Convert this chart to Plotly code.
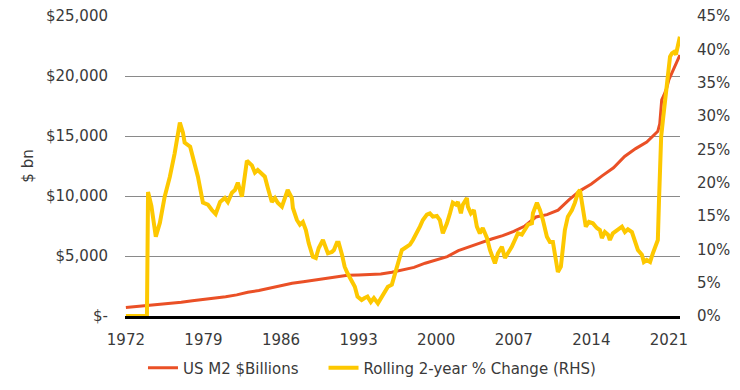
import plotly.graph_objects as go

# ---- Data ----
m2_year = [1972, 1973, 1974, 1975, 1976, 1977, 1978, 1979, 1980, 1981,
           1982, 1983, 1984, 1985, 1986, 1987, 1988, 1989, 1990, 1991,
           1992, 1993, 1994, 1995, 1996, 1997, 1998, 1999, 2000, 2001,
           2002, 2003, 2004, 2005, 2006, 2007, 2008, 2009, 2010, 2011,
           2012, 2013, 2014, 2015, 2016, 2017, 2018, 2019,
           2020.0, 2020.17, 2020.35, 2020.55, 2020.8, 2021.0, 2021.3, 2021.55, 2021.99]
m2_value = [700, 790, 860, 920, 1020, 1150, 1270, 1370, 1480, 1600,
            1760, 1980, 2130, 2320, 2500, 2730, 2850, 2990, 3170, 3300,
            3390, 3420, 3480, 3500, 3650, 3830, 4050, 4400, 4650, 4950,
            5450, 5800, 6100, 6420, 6700, 7050, 7500, 8250, 8450, 8820,
            9700, 10450, 11000, 11700, 12350, 13300, 13950, 14500,
            15400, 16000, 18000, 18400, 19000, 19700, 20300, 20900, 21750]

chg_year = [1972.0, 1973.9, 1974.0, 1974.3, 1974.7, 1975.07, 1975.5, 1975.97, 1976.4, 1976.87,
            1977.15, 1977.3, 1977.8, 1978.2, 1978.5, 1978.95, 1979.4, 1979.76, 1980.1, 1980.5,
            1980.93, 1981.2, 1981.57, 1981.84, 1982.1, 1982.47, 1982.74, 1982.92, 1983.37, 1983.64,
            1983.9, 1984.27, 1984.54, 1984.81, 1985.17, 1985.45, 1985.7, 1986.08, 1986.35, 1986.6,
            1986.98, 1987.07, 1987.43, 1987.7, 1987.97, 1988.24, 1988.5, 1988.87, 1989.14, 1989.4,
            1989.78, 1990.05, 1990.23, 1990.59, 1990.77, 1991.04, 1991.2, 1991.5, 1991.74, 1992.0,
            1992.37, 1992.66, 1992.9, 1993.27, 1993.54, 1993.8, 1994.1, 1994.38, 1994.74, 1995.1,
            1995.37, 1995.64, 1996.0, 1996.27, 1996.54, 1996.9, 1997.18, 1997.63, 1997.9, 1998.26,
            1998.53, 1998.8, 1999.16, 1999.43, 1999.7, 2000.06, 2000.33, 2000.6, 2000.97, 2001.24,
            2001.5, 2001.78, 2001.96, 2002.23, 2002.4, 2002.77, 2002.86, 2003.13, 2003.4, 2003.67,
            2003.94, 2004.2, 2004.58, 2004.85, 2005.3, 2005.57, 2005.93, 2006.2, 2006.47, 2006.83,
            2007.1, 2007.37, 2007.73, 2008.0, 2008.28, 2008.64, 2008.73, 2009.09, 2009.36, 2009.63,
            2009.99, 2010.26, 2010.53, 2010.8, 2010.98, 2011.25, 2011.43, 2011.61, 2011.88, 2012.25,
            2012.52, 2012.79, 2012.97, 2013.24, 2013.5, 2013.78, 2014.14, 2014.5, 2014.77, 2014.95,
            2015.22, 2015.5, 2015.67, 2015.94, 2016.3, 2016.76, 2017.03, 2017.3, 2017.66, 2017.93,
            2018.2, 2018.56, 2018.74, 2019.0, 2019.3, 2019.55, 2019.8, 2020.0, 2020.1, 2020.2,
            2020.3, 2020.46, 2020.64, 2020.82, 2021.1, 2021.27, 2021.45, 2021.63, 2021.8, 2021.99]
chg_pct = [0.0, 0.0, 18.6, 16.5, 11.9, 14.0, 17.9, 20.9, 24.4, 29.0,
           27.5, 26.0, 25.4, 23.0, 20.9, 17.0, 16.7, 15.9, 15.3, 17.1,
           17.7, 17.1, 18.5, 18.9, 20.0, 17.9, 21.5, 23.3, 22.6, 21.5,
           21.9, 21.2, 20.9, 19.2, 17.1, 17.7, 17.0, 16.4, 17.9, 18.9,
           17.7, 16.2, 14.4, 13.7, 14.1, 12.9, 10.9, 8.9, 8.7, 10.2,
           11.4, 9.9, 9.4, 9.6, 9.9, 11.0, 11.0, 9.2, 7.4, 6.4,
           5.4, 4.4, 2.9, 2.4, 2.7, 2.9, 2.1, 2.7, 1.9, 2.9,
           3.9, 4.4, 4.7, 6.4, 7.9, 9.9, 10.2, 10.7, 11.4, 12.4,
           13.4, 14.4, 15.2, 15.4, 14.9, 15.0, 14.4, 12.4, 13.9, 15.4,
           17.0, 16.7, 17.1, 15.4, 16.7, 17.7, 16.4, 15.4, 15.9, 13.4,
           12.4, 13.2, 11.7, 9.9, 7.9, 9.4, 10.4, 8.7, 9.4, 10.4,
           11.4, 12.4, 12.2, 12.9, 13.7, 13.9, 15.4, 17.0, 15.9, 14.4,
           11.9, 11.1, 11.1, 8.4, 6.6, 7.4, 11.0, 12.9, 14.9, 15.9,
           17.0, 18.5, 18.9, 16.4, 13.4, 14.1, 13.9, 13.2, 12.9, 11.7,
           12.6, 12.2, 11.4, 12.4, 12.9, 13.4, 12.6, 13.0, 12.6, 11.0,
           9.9, 9.2, 8.1, 8.4, 8.1, 9.4, 10.4, 11.4, 17.0, 23.4,
           26.9, 29.4, 32.4, 34.4, 38.9, 39.4, 39.6, 39.2, 40.9, 41.9]

x_ticks = [1972, 1979, 1986, 1993, 2000, 2007, 2014, 2021]
left_ticks = [0, 5000, 10000, 15000, 20000, 25000]
left_labels = ["$-", "$5,000", "$10,000", "$15,000", "$20,000", "$25,000"]
right_ticks = [0, 5, 10, 15, 20, 25, 30, 35, 40, 45]
right_labels = [f"{v}%" for v in right_ticks]

RED = "#EA5026"
YELLOW = "#FDC800"
FONT = "DejaVu Sans"
TXT = "#3a3a3a"

fig = go.Figure()
fig.add_trace(go.Scatter(x=m2_year, y=m2_value, mode="lines", name="US M2 $Billions",
                         line=dict(color=RED, width=3), legend="legend"))
fig.add_trace(go.Scatter(x=chg_year, y=chg_pct, mode="lines", name="Rolling 2-year % Change (RHS)",
                         line=dict(color=YELLOW, width=4), yaxis="y2", legend="legend2"))

leg_common = dict(orientation="h", yanchor="middle", y=-0.173, xanchor="left",
                  font=dict(family=FONT, size=15, color=TXT), itemwidth=30,
                  bgcolor="rgba(0,0,0,0)", borderwidth=0)

# page body adds an 8px margin on every side, so the figure is sized 724x374
fig.update_layout(
    width=724, height=374,
    margin=dict(l=117, r=52, t=8, b=66, autoexpand=False),
    paper_bgcolor="white", plot_bgcolor="white",
    font=dict(family=FONT, size=15, color=TXT),
    showlegend=True,
    legend=dict(x=0.0324, **leg_common),
    legend2=dict(x=0.3577, **leg_common),
    xaxis=dict(range=[1971.92, 2022.0], tickmode="array", tickvals=x_ticks,
               ticktext=[str(v) for v in x_ticks], showgrid=False, zeroline=False,
               showline=True, linecolor="black", linewidth=3, ticks="", ticklen=0,
               automargin=False, ticklabelstandoff=8, ticklabeloverflow="allow",
               tickfont=dict(family=FONT, size=15, color=TXT)),
    yaxis=dict(range=[0, 25000], tickmode="array", tickvals=left_ticks, ticktext=left_labels,
               showgrid=True, gridcolor="#8a8a8a", gridwidth=1, zeroline=False,
               showline=False, ticks="", ticklabelstandoff=16, automargin=False,
               ticklabeloverflow="allow",
               title=dict(text="$ bn", font=dict(family=FONT, size=15, color=TXT), standoff=8),
               tickfont=dict(family=FONT, size=15, color=TXT)),
    yaxis2=dict(range=[0, 45], overlaying="y", side="right", tickmode="array",
                tickvals=right_ticks, ticktext=right_labels, showgrid=False, zeroline=False,
                showline=False, ticks="", ticklabelstandoff=16, automargin=False,
                ticklabeloverflow="allow",
                tickfont=dict(family=FONT, size=15, color=TXT)),
)

fig.write_html("out.html")
